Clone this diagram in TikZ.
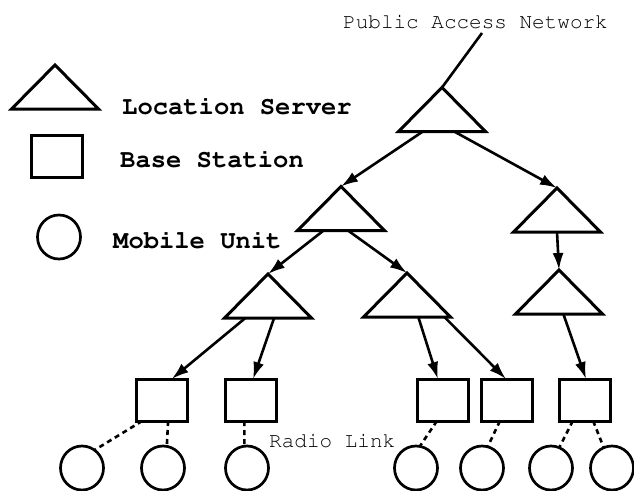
\documentclass[tikz,border=0pt]{standalone}
\usepackage[T1]{fontenc}
\usetikzlibrary{arrows.meta,calc,shapes.geometric}
\begin{document}
\begin{tikzpicture}[x=1pt,y=-1pt,
  tribox/.style={draw=none,minimum width=87pt,minimum height=44pt,inner sep=0pt,outer sep=0pt},
  shp/.style={line width=3pt,line join=miter},
  bs/.style={draw,line width=3pt,minimum width=51pt,minimum height=42pt,inner sep=0pt,outer sep=0pt},
  mu/.style={draw,ellipse,line width=2.7pt,minimum width=43pt,minimum height=44pt,inner sep=0pt,outer sep=0pt},
  arr/.style={line width=2.6pt,-{Latex[length=17pt,width=11pt]}},
  radio/.style={line width=2.6pt,dash pattern=on 5pt off 4pt},
  lbl/.style={font=\fontsize{25.5}{30}\fontfamily{pcr}\bfseries\selectfont,anchor=base west,inner sep=0pt},
  txt/.style={font=\fontsize{21}{25}\fontfamily{pcr}\mdseries\selectfont,anchor=base west,inner sep=0pt}]
\useasboundingbox (0,0) rectangle (634,490);

% legend
\node[tribox] (LT) at (55,87) {};
\node[bs] (LB) at (56.5,156.5) {};
\node[mu] (LC) at (59,237) {};
\node[lbl] (tls) at (122,114) {Location Server};
\node[lbl] (tbs) at (120,167) {Base Station};
\node[lbl] (tmu) at (113,248) {Mobile Unit};

% location servers
\node[tribox] (R) at (442,109.5) {};
\node[tribox] (A) at (341,208.5) {};
\node[tribox] (B) at (557,210) {};
\node[tribox] (C) at (268,296) {};
\node[tribox] (D) at (407,295) {};
\node[tribox] (E) at (559,292) {};
\foreach \n in {LT,R,A,B,C,D,E}
  \draw[shp] (\n.south west) -- (\n.north) -- (\n.south east) -- cycle;

% base stations
\node[bs] (b1) at (161.5,400) {};
\node[bs] (b2) at (251,400) {};
\node[bs] (b3) at (443,400) {};
\node[bs] (b4) at (507,400) {};
\node[bs] (b5) at (585,400) {};

% mobile units
\node[mu] (c1) at (82,468) {};
\node[mu] (c2) at (163,468) {};
\node[mu] (c3) at (247,468) {};
\node[mu] (c4) at (416,468) {};
\node[mu] (c5) at (482,468) {};
\node[mu] (c6) at (551,468) {};
\node[mu] (c7) at (612,468) {};

% texts
\node[txt] (pan) at (343,28) {Public Access Network};
\node[txt] (rl) at (269,447) {Radio Link};

% network line
\coordinate (panfoot) at (482,33);
\draw[line width=2.6pt] (panfoot) -- (R.north);

% arrows
\draw[arr] ($(R.south west)!.28!(R.south east)$) -- (A.north);
\draw[arr] ($(R.south west)!.64!(R.south east)$) -- (B.north);
\draw[arr] ($(A.south west)!.3!(A.south east)$) -- (C.north);
\draw[arr] ($(A.south west)!.58!(A.south east)$) -- (D.north);
\draw[arr] (B.south) -- (E.north);
\draw[arr] ($(C.south west)!.24!(C.south east)$) -- ($(b1.north west)!.7!(b1.north east)$);
\draw[arr] ($(C.south west)!.57!(C.south east)$) -- ($(b2.north west)!.54!(b2.north east)$);
\draw[arr] ($(D.south west)!.63!(D.south east)$) -- ($(b3.north west)!.4!(b3.north east)$);
\draw[arr] ($(D.south west)!.93!(D.south east)$) -- ($(b4.north west)!.48!(b4.north east)$);
\draw[arr] ($(E.south west)!.55!(E.south east)$) -- ($(b5.north west)!.52!(b5.north east)$);

% radio links
\draw[radio] ($(b1.south west)!.12!(b1.south east)$) -- (c1.55);
\draw[radio] ($(b1.south west)!.63!(b1.south east)$) -- (c2.80);
\draw[radio] ($(b2.south west)!.37!(b2.south east)$) -- (c3.97);
\draw[radio] ($(b3.south west)!.38!(b3.south east)$) -- (c4.80);
\draw[radio] ($(b4.south west)!.36!(b4.south east)$) -- (c5.75);
\draw[radio] ($(b5.south west)!.26!(b5.south east)$) -- (c6.68);
\draw[radio] ($(b5.south west)!.66!(b5.south east)$) -- (c7.112);
\end{tikzpicture}
\end{document}
